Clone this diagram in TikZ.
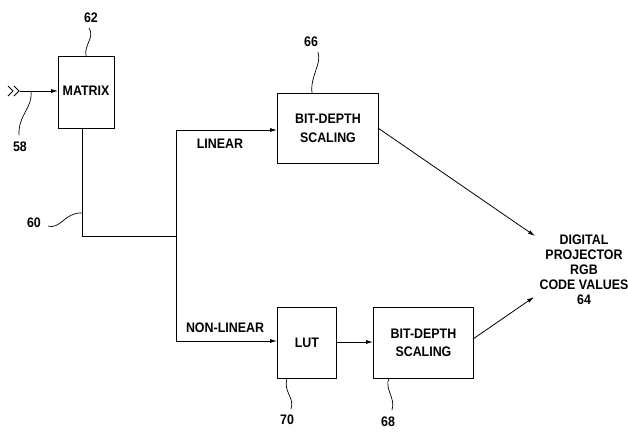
\documentclass[tikz,border=0pt]{standalone}
\usepackage{fontspec}
\setmainfont{Liberation Sans}[FakeStretch=0.9]
\usetikzlibrary{arrows.meta}
\begin{document}
\begin{tikzpicture}[x=1pt,y=-1pt,
  every node/.style={font=\fontsize{13.8}{18.5}\selectfont\bfseries,inner sep=1pt},
  blk/.style={draw,line width=0.9pt,inner sep=0pt,anchor=north west},
  conn/.style={line width=0.8pt},
  arr/.style={line width=0.8pt,-{Latex[length=7pt,width=4pt]}},
  lead/.style={line width=0.7pt}]
\useasboundingbox (0,0) rectangle (628,432);
% boxes
\node[blk,minimum width=56pt,minimum height=72pt] (matrix) at (58,56) {};
\node at (86,91) (mtxt) {MATRIX};
\node[blk,minimum width=101pt,minimum height=70pt] (bd1) at (277,93) {};
\node[align=center] at (bd1.center) (bd1t) {BIT-DEPTH\\SCALING};
\node[blk,minimum width=59pt,minimum height=71pt] (lut) at (277,307) {};
\node at (lut.center) (lutt) {LUT};
\node[blk,minimum width=100pt,minimum height=71pt] (bd2) at (373,307) {};
\node[align=center] at (bd2.center) (bd2t) {BIT-DEPTH\\SCALING};
\node[align=center,font=\fontsize{13.8}{15}\selectfont\bfseries] (out) at (584,270) {DIGITAL\\PROJECTOR\\RGB\\CODE VALUES\\64};
% labels
\node (l62) at (91,18) {62};
\node (l58) at (20,147) {58};
\node (l60) at (34,223) {60};
\node (l66) at (311,42) {66};
\node (l70) at (287,420) {70};
\node (l68) at (388,422) {68};
\node (lin) at (220,144) {LINEAR};
\node (nlin) at (225,328) {NON-LINEAR};
% coordinates
\coordinate (in) at (20,91);
\coordinate (c1) at (82,128);
\coordinate (c2) at (82,236);
\coordinate (j) at (176,236);
\coordinate (jt) at (176,130);
\coordinate (jb) at (176,341);
\coordinate (o1) at (535,236);
\coordinate (o2) at (534,297);
% input chevrons
\draw[conn] (8,86) -- (13,91) -- (8,96);
\draw[conn] (14,86) -- (19,91) -- (14,96);
\draw[arr] (in) -- (matrix.west |- in);
% connections
\draw[conn] (c1) -- (c2) -- (j);
\draw[arr] (jb) -- (jt) -- (bd1.west |- jt);
\draw[arr] (jb) -- (lut.west |- jb);
\draw[arr] (lut.east |- 0,342) -- (bd2.west |- 0,342);
\draw[arr] (378,128) -- (o1);
\draw[arr] (473,339) -- (o2);
% leaders
\draw[lead] (89,28) .. controls (95,38) and (84,44) .. (86,56);
\draw[lead] (31,91) .. controls (33,108) and (18,115) .. (19,135);
\draw[lead] (48,226) .. controls (60,230) and (65,212) .. (82,213);
\draw[lead] (318,52) .. controls (322,64) and (310,76) .. (312,93);
\draw[lead] (287,378) .. controls (283,392) and (295,398) .. (291,409);
\draw[lead] (389,378) .. controls (384,389) and (396,398) .. (392,410);
\end{tikzpicture}
\end{document}
